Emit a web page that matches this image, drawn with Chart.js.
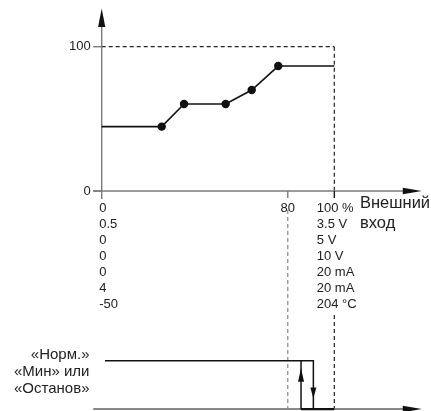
<!DOCTYPE html>
<html><head><meta charset="utf-8">
<script src="https://cdn.jsdelivr.net/npm/chart.js@4/dist/chart.umd.min.js"></script>
<style>html,body{margin:0;padding:0;background:#fff;}canvas{display:block}</style>
</head><body>
<canvas id="c" width="431" height="411"></canvas>
<script>
// ---- data ----
const inputPct  = [0, 25.8, 35.4, 53.3, 64.5, 75.9, 100];
const outputPct = [44.6, 44.6, 60.3, 60.3, 70, 86.6, 86.6];
const yTickValues = [0, 100];
const minInputLabels = ['0', '0.5', '0', '0', '0', '4', '-50'];
const maxInputLabels = ['100 %', '3.5 V', '5 V', '10 V', '20 mA', '20 mA', '204 °C'];
const midTickValue = 80;
const midTickLabel = '80';
const xAxisTitle = ['Внешний', 'вход'];
const stateLabels = ['«Норм.»', '«Мин» или', '«Останов»'];
const switchDownAt = 91;   // Норм -> Мин/Останов
const switchUpAt = 85.7;   // Мин/Останов -> Норм
const normStartAt = 1.4;

// state levels expressed on the main y scale (lower diagram)
const levelNorm = -117.6;
const levelMin = -151.1;

const curve = inputPct.map((v, i) => ({x: v, y: outputPct[i]}));
const normPath = [{x: normStartAt, y: levelNorm}, {x: switchDownAt, y: levelNorm}, {x: switchDownAt, y: levelMin}];
const upPath = [{x: switchUpAt, y: levelMin}, {x: switchUpAt, y: levelNorm}];
const minPath = [{x: switchUpAt, y: levelMin}, {x: 100, y: levelMin}];

const FONT = '"Liberation Sans", Arial, sans-serif';
const TXT = '#222';

const diagram = {
  id: 'diagram',
  beforeDatasetsDraw(chart) {
    const {ctx, scales: {x, y}} = chart;
    const X = v => x.getPixelForValue(v), Y = v => y.getPixelForValue(v);
    const L = (a, b, c, d) => { ctx.beginPath(); ctx.moveTo(a, b); ctx.lineTo(c, d); ctx.stroke(); };
    const x0 = X(0), x100 = X(100), y0 = Y(0), y100 = Y(100), yb = Y(levelMin);
    const tipX = X(137.6);
    ctx.save();
    // dashed guides
    ctx.lineWidth = 1.2;
    ctx.setLineDash([4, 3]);
    ctx.strokeStyle = '#222';
    L(x0, y100, x100, y100);
    L(x100, y100, x100, y0);
    L(x100, y0 + 124, x100, yb);
    ctx.strokeStyle = '#888';
    L(X(midTickValue), y0 + 19, X(midTickValue), yb);
    ctx.setLineDash([]);
    // axes
    ctx.strokeStyle = '#7a7a7a';
    ctx.lineWidth = 1.4;
    L(x0, y0 + 8, x0, 26);
    L(x0 - 8.5, y0, tipX - 18, y0);
    yTickValues.forEach(v => L(x0 - 8.5, Y(v), x0, Y(v)));
    L(X(midTickValue), y0, X(midTickValue), y0 + 7);
    ctx.strokeStyle = '#222';
    L(x100, y0, x100, y0 + 7);
    ctx.strokeStyle = '#888';
    ctx.lineWidth = 2;
    L(x0 - 8.5, yb, tipX - 18, yb);
    ctx.restore();
  },
  afterDatasetsDraw(chart) {
    const {ctx, scales: {x, y}} = chart;
    const X = v => x.getPixelForValue(v), Y = v => y.getPixelForValue(v);
    const x0 = X(0), x100 = X(100), y0 = Y(0), yb = Y(levelMin), yn = Y(levelNorm);
    const tipX = X(137.6);
    const tri = (pts) => { ctx.beginPath(); ctx.moveTo(...pts[0]); ctx.lineTo(...pts[1]); ctx.lineTo(...pts[2]); ctx.closePath(); ctx.fill(); };
    ctx.save();
    ctx.fillStyle = '#111';
    // axis arrowheads
    tri([[x0, 8.5], [x0 - 3.6, 27], [x0 + 3.6, 27]]);
    tri([[tipX, y0], [tipX - 19, y0 - 3.3], [tipX - 19, y0 + 3.3]]);
    tri([[tipX, yb], [tipX - 19, yb - 3.3], [tipX - 19, yb + 3.3]]);
    // hysteresis arrows
    const xu = X(switchUpAt), xd = X(switchDownAt);
    tri([[xu, yn + 7.5], [xu - 3, yn + 21], [xu + 3, yn + 21]]);
    tri([[xd, yb - 10.5], [xd - 3, yb - 21.5], [xd + 3, yb - 21.5]]);

    // texts
    ctx.fillStyle = TXT;
    ctx.textBaseline = 'middle';
    ctx.font = '13px ' + FONT;
    ctx.textAlign = 'right';
    yTickValues.forEach(v => ctx.fillText(String(v), x0 - 11, Y(v)));
    ctx.textAlign = 'left';
    const rowStart = y0 + 17.5, rowGap = 15.95;
    minInputLabels.forEach((t, i) => ctx.fillText(t, x0 - 2.5, rowStart + i * rowGap));
    maxInputLabels.forEach((t, i) => ctx.fillText(t, x100 - 17.5, rowStart + i * rowGap));
    ctx.textAlign = 'center';
    ctx.fillText(midTickLabel, X(midTickValue), rowStart);
    ctx.textAlign = 'left';
    ctx.font = '16.5px ' + FONT;
    xAxisTitle.forEach((t, i) => ctx.fillText(t, 360, y0 + 12 + i * 20));
    ctx.textAlign = 'right';
    ctx.font = '15px ' + FONT;
    stateLabels.forEach((t, i) => ctx.fillText(t, 89.5, yn - 5.5 + i * 16.7));
    ctx.restore();
  }
};

new Chart(document.getElementById('c'), {
  type: 'line',
  data: {
    datasets: [
      {data: curve, borderColor: '#111', borderWidth: 1.6, tension: 0,
       pointRadius: c => (c.dataIndex > 0 && c.dataIndex < inputPct.length - 1) ? 4.2 : 0,
       pointBackgroundColor: '#111', pointBorderWidth: 0, clip: false},
      {data: normPath, borderColor: '#111', borderWidth: 1.5, pointRadius: 0, clip: false},
      {data: upPath, borderColor: '#111', borderWidth: 1.5, pointRadius: 0, clip: false},
      {data: minPath, borderColor: '#111', borderWidth: 2.2, pointRadius: 0, clip: false}
    ]
  },
  options: {
    responsive: false,
    animation: false,
    parsing: true,
    layout: {padding: {left: 101.7, right: 96.7, top: 46.7, bottom: 220}},
    plugins: {legend: {display: false}, tooltip: {enabled: false}, title: {display: false}},
    scales: {
      x: {type: 'linear', min: 0, max: 100, display: false},
      y: {type: 'linear', min: 0, max: 100, display: false}
    }
  },
  plugins: [diagram]
});
</script>
</body></html>
